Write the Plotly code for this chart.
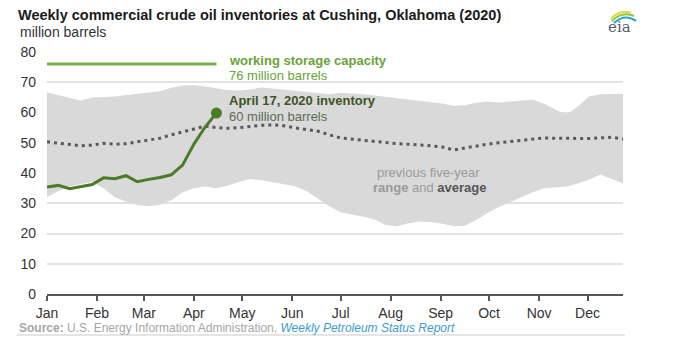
import pandas as pd
import plotly.graph_objects as go

# ---------------- data ----------------
week_dates = pd.date_range("2020-01-01", periods=52, freq="7D")

range_max = [66.6, 65.8, 65.0, 64.0, 65.0, 65.2, 65.3, 65.8, 66.3, 66.6,
             67.0, 68.2, 68.9, 69.0, 68.6, 68.1, 67.4, 67.3, 67.6, 68.3,
             68.0, 67.6, 67.2, 66.8, 66.3, 66.0, 66.5, 66.3, 66.0, 65.6,
             65.2, 64.6, 64.2, 63.9, 63.6, 63.0, 62.2, 62.4, 63.2, 63.6,
             63.3, 63.6, 64.0, 64.2, 63.0, 61.0, 59.3, 62.0, 65.3, 66.0,
             66.1, 66.2]
range_min = [32.1, 34.0, 35.6, 36.3, 37.0, 35.0, 32.0, 30.6, 29.4, 29.0,
             29.5, 31.0, 33.6, 35.0, 35.5, 35.0, 35.8, 37.0, 38.0, 37.6,
             37.0, 36.3, 35.5, 34.0, 31.5, 29.0, 27.0, 26.3, 25.5, 24.6,
             22.8, 22.4, 23.4, 24.0, 23.8, 23.2, 22.4, 22.6, 24.5, 26.8,
             28.8, 30.3, 32.0, 33.6, 35.0, 35.2, 35.5, 36.5, 37.8, 39.5,
             38.0, 36.5]
five_year_avg = [50.3, 49.9, 49.6, 49.0, 49.2, 49.8, 49.5, 49.7, 50.3, 50.8,
                 51.5, 52.6, 53.6, 54.6, 55.5, 55.0, 54.8, 55.0, 55.4, 55.8,
                 55.9, 55.6, 54.9, 54.4, 53.8, 52.6, 51.6, 51.2, 50.8, 50.4,
                 50.0, 49.7, 49.5, 49.3, 49.0, 48.6, 47.6, 48.3, 49.0, 49.5,
                 50.0, 50.3, 50.8, 51.2, 51.6, 51.5, 51.4, 51.3, 51.4, 51.6,
                 51.8, 51.2]
inventory_2020 = [35.4, 35.9, 34.8, 35.4, 36.2, 38.4, 38.1, 39.1, 37.1, 37.9,
                  38.5, 39.4, 42.6, 49.5, 55.2, 59.8]
capacity = 76
latest_value = 60

month_ticks = ["2020-01-01", "2020-02-01", "2020-03-01", "2020-04-01",
               "2020-05-01", "2020-06-01", "2020-07-01", "2020-08-01",
               "2020-09-01", "2020-10-01", "2020-11-01", "2020-12-01"]
month_labels = ["Jan", "Feb", "Mar", "Apr", "May", "Jun", "Jul", "Aug",
                "Sep", "Oct", "Nov", "Dec"]
y_ticks = [0, 10, 20, 30, 40, 50, 60, 70, 80]

inv_dates = week_dates[:len(inventory_2020)]

# ---------------- layout helpers ----------------
W, H = 700, 339
L, R, T, B = 47, 77, 52, 45
PW, PH = W - L - R, H - T - B
FONT = "Liberation Sans, Arial, sans-serif"


def px(x):
    return (x - L) / PW


def py(y):
    return (H - B - y) / PH


fig = go.Figure()

# five-year range band
fig.add_trace(go.Scatter(x=week_dates, y=range_min, mode="lines",
                         line=dict(width=0, color="#d9d9d9"),
                         hoverinfo="skip", showlegend=False))
fig.add_trace(go.Scatter(x=week_dates, y=range_max, mode="lines",
                         line=dict(width=0, color="#d9d9d9"),
                         fill="tonexty", fillcolor="#d9d9d9",
                         hoverinfo="skip", showlegend=False))
# five-year average
fig.add_trace(go.Scatter(x=week_dates, y=five_year_avg, mode="lines",
                         line=dict(width=3, color="#595959", dash="3px,4px"),
                         showlegend=False))
# working storage capacity
fig.add_trace(go.Scatter(x=[inv_dates[0], inv_dates[-1]], y=[capacity, capacity],
                         mode="lines", line=dict(width=3, color="#77b043"),
                         showlegend=False))
# 2020 inventories
fig.add_trace(go.Scatter(x=inv_dates, y=inventory_2020, mode="lines",
                         line=dict(width=3, color="#4a7c27"),
                         showlegend=False))
fig.add_trace(go.Scatter(x=[inv_dates[-1]], y=[inventory_2020[-1]], mode="markers",
                         marker=dict(size=11, color="#4a7c27"),
                         showlegend=False))


def ann(text, x, y, size=13, color="#333", xanchor="left"):
    fig.add_annotation(text=text, x=px(x), y=py(y), xref="paper", yref="paper",
                       xanchor=xanchor, yanchor="middle", showarrow=False,
                       font=dict(family=FONT, size=size, color=color))


ann("million barrels", 18, 32, size=14, color="#333")
ann("<b>working storage capacity</b>", 227, 60, color="#6aa338")
ann(f"{capacity} million barrels", 227, 75, color="#6aa338")
ann("<b>April 17, 2020 inventory</b>", 227, 100, color="#3d5424")
ann(f"{latest_value} million barrels", 227, 116, color="#5e6b50")
ann("previous five-year", 428, 172, color="#9a9a9a", xanchor="center")
ann("<b>range</b> and <span style='color:#555555'><b>average</b></span>",
    429, 187, color="#9a9a9a", xanchor="center")
ann("<b>Source:</b> U.S. Energy Information Administration, "
    "<span style='color:#3c9ad6'><i>Weekly Petroleum Status Report</i></span>",
    17, 328, size=12, color="#a6a6a6")

# eia logo (approximation)
fig.add_annotation(text="eia", x=px(619), y=py(27), xref="paper", yref="paper",
                   xanchor="center", yanchor="middle", showarrow=False,
                   font=dict(family="DejaVu Serif, serif", size=15, color="#56606b"))
for col, (x0, y0, cx, cy, x1, y1) in [
        ("#e6d43c", (611, 19, 620, 9, 631, 13)),
        ("#8cc63e", (612, 21, 622, 11, 634, 16)),
        ("#2a9fd8", (614, 23, 625, 13, 636, 21))]:
    fig.add_shape(type="path", xref="paper", yref="paper",
                  path=f"M {px(x0)},{py(y0)} Q {px(cx)},{py(cy)} {px(x1)},{py(y1)}",
                  line=dict(color=col, width=2))

# rule under the source
fig.add_shape(type="line", xref="paper", yref="paper",
              x0=px(17), x1=px(625), y0=py(335), y1=py(335),
              line=dict(color="#dddddd", width=1.5))

fig.update_layout(
    width=W, height=H,
    margin=dict(l=L, r=R, t=T, b=B),
    paper_bgcolor="white", plot_bgcolor="white",
    font=dict(family=FONT, color="#333"),
    title=dict(text="<b>Weekly commercial crude oil inventories at Cushing, Oklahoma (2020)</b>",
               x=18 / W, xanchor="left", y=1 - 15 / H, yanchor="middle",
               xref="container", yref="container",
               font=dict(family=FONT, size=14.5, color="#1a1a1a")),
    xaxis=dict(type="date", range=[week_dates[0], week_dates[-1]],
               tickvals=month_ticks, ticktext=month_labels,
               ticks="outside", ticklen=5, tickwidth=1.5, tickcolor="#555",
               showline=True, linecolor="#555", linewidth=1.5,
               showgrid=False, zeroline=False,
               tickfont=dict(family=FONT, size=14, color="#333")),
    yaxis=dict(range=[0, 80], tickvals=y_ticks, showgrid=True,
               gridcolor="#e3e3e3", gridwidth=1.5, zeroline=False,
               showline=False, ticks="", ticklabelstandoff=10,
               tickfont=dict(family=FONT, size=14, color="#333")),
)

fig.write_html("out.html")
